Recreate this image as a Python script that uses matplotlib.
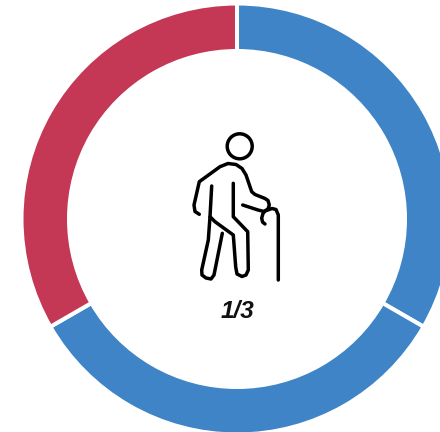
import matplotlib
matplotlib.use('Agg')
import matplotlib.pyplot as plt
from matplotlib.patches import Circle

# tres fatias iguais
valores = [1, 1, 1]
cores = ['#3E84C6', '#3E84C6', '#C43755']
rotulo = '1/3'

# icone (pixels da imagem: x, y de cima para baixo)
corpo = [(199.3, 214.3), (195, 211.5), (194, 205), (199.3, 181.7), (220, 166.7), (228, 163.5),
         (236, 164.5), (242, 168.5), (246, 175), (251.7, 191.7), (255, 194.5), (265, 198.5),
         (268, 200.5), (269.3, 205), (268, 209), (264, 211.5), (258, 210), (242.7, 205)]
bengala = [(265, 224), (262.5, 222), (261.7, 218), (263, 213.5), (265, 211), (272, 208.5),
           (276, 209.5), (278.3, 215), (278.3, 280)]
perna_frente = [(211.7, 186), (210, 216.7), (215, 221.7), (233.3, 235), (235.7, 267), (237, 274),
                (242, 276.5), (246, 275), (248.3, 270), (247.7, 231.7), (233.3, 216.7), (233.3, 183.3)]
perna_tras = [(210, 216.7), (208.3, 240), (201.7, 270), (202, 275), (206, 278), (211, 279),
              (214, 275), (222.3, 233.3)]

largura, altura = 440, 432
fig = plt.figure(figsize=(largura / 100, altura / 100), dpi=100)
ax = fig.add_axes([0, 0, 1, 1])

ax.pie(valores, colors=cores, startangle=90, counterclock=False, radius=215.5,
       center=(237, altura - 219), wedgeprops=dict(width=47.5, edgecolor='white', linewidth=2.9))

ax.set_xlim(0, largura)
ax.set_ylim(0, altura)
ax.set_aspect('equal')
ax.axis('off')

for traco in [corpo, bengala, perna_frente, perna_tras]:
    xs = [p[0] for p in traco]
    ys = [altura - p[1] for p in traco]
    ax.plot(xs, ys, color='black', linewidth=2.5, solid_capstyle='round', solid_joinstyle='round')

ax.add_patch(Circle((239.7, altura - 146.3), 12.5, fill=False, edgecolor='black', linewidth=2.5))

ax.text(237.5, altura - 311, rotulo, family='Liberation Sans', fontweight='bold', fontstyle='italic',
        fontsize=17.5, ha='center', va='center', color='#111111')

fig.savefig('out.png', dpi=100)
